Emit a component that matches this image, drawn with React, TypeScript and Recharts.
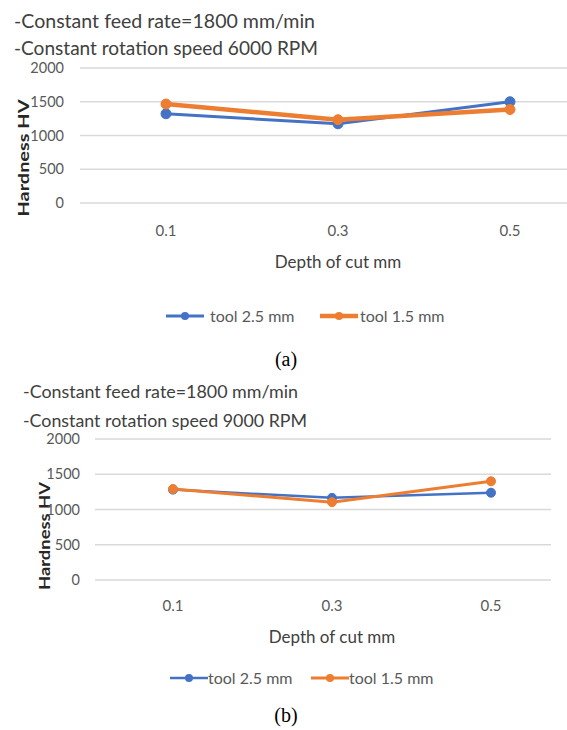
import { CartesianGrid, Line, LineChart, XAxis, YAxis } from "recharts"

const depthLabels = ["0.1", "0.3", "0.5"]
const yTicks = [0, 500, 1000, 1500, 2000]

// (a) 6000 RPM
const tool25At6000 = [1322, 1173, 1500]
const tool15At6000 = [1466, 1234, 1385]

// (b) 9000 RPM
const tool25At9000 = [1282, 1165, 1238]
const tool15At9000 = [1290, 1104, 1400]

const seriesNames = ["tool 2.5 mm", "tool 1.5 mm"]
const seriesColors = ["#4472C4", "#ED7D31"]

const titleLinesA = ["-Constant feed rate=1800 mm/min", "-Constant rotation speed 6000 RPM"]
const titleLinesB = ["-Constant feed rate=1800 mm/min", "-Constant rotation speed 9000 RPM"]

const FONT = "Lato, 'Open Sans', sans-serif"

const buildRows = (blue: number[], orange: number[]) =>
    depthLabels.map((depth, i) => ({ depth, blue: blue[i], orange: orange[i] }))

interface PanelProps {
    rows: { depth: string; blue: number; orange: number }[]
    top: number
    width: number
    height: number
    margin: { top: number; right: number; left: number; bottom: number }
    padLeft: number
    padRight: number
    yTickMargin: number
    xTickMargin: number
    titleOffset: number
    titleDx: number
    yLabel: { x: number; y: number; len: number }
    blueWidth: number
    orangeWidth: number
    dotR: number
}

function Panel(p: PanelProps) {
    return (
        <div style={{ position: "absolute", left: 0, top: p.top, width: 567, height: p.height, overflow: "hidden" }}>
            <LineChart width={p.width} height={p.height} data={p.rows} margin={p.margin}>
                <CartesianGrid vertical={false} stroke="#d9d9d9" strokeWidth={1.5} />
                <XAxis
                    dataKey="depth"
                    axisLine={false}
                    tickLine={false}
                    tickSize={0}
                    tickMargin={p.xTickMargin}
                    height={70}
                    padding={{ left: p.padLeft, right: p.padRight }}
                    tick={{ fill: "#595959", fontSize: 15, fontFamily: FONT }}
                    label={{
                        value: "Depth of cut mm",
                        position: "insideBottom",
                        offset: p.titleOffset,
                        dx: p.titleDx,
                        fill: "#404040",
                        fontSize: 17,
                        fontFamily: FONT,
                    }}
                />
                <YAxis
                    domain={[0, 2000]}
                    ticks={yTicks}
                    width={60}
                    axisLine={false}
                    tickLine={false}
                    tickSize={0}
                    tickMargin={p.yTickMargin}
                    tick={{ fill: "#595959", fontSize: 14.5, fontFamily: FONT }}
                    label={{
                        content: () => (
                            <text
                                transform={`translate(${p.yLabel.x},${p.yLabel.y}) rotate(-90)`}
                                textAnchor="middle"
                                dominantBaseline="central"
                                fill="#262626"
                                fontSize={16}
                                fontWeight="bold"
                                fontFamily={FONT}
                                textLength={p.yLabel.len}
                                lengthAdjust="spacingAndGlyphs"
                            >
                                Hardness HV
                            </text>
                        ),
                    }}
                />
                <Line
                    dataKey="blue"
                    name={seriesNames[0]}
                    stroke={seriesColors[0]}
                    strokeWidth={p.blueWidth}
                    dot={{ r: p.dotR, fill: seriesColors[0], stroke: seriesColors[0], strokeWidth: 1 }}
                    activeDot={false}
                    isAnimationActive={false}
                />
                <Line
                    dataKey="orange"
                    name={seriesNames[1]}
                    stroke={seriesColors[1]}
                    strokeWidth={p.orangeWidth}
                    dot={{ r: p.dotR, fill: seriesColors[1], stroke: seriesColors[1], strokeWidth: 1 }}
                    activeDot={false}
                    isAnimationActive={false}
                />
            </LineChart>
        </div>
    )
}

function LegendRow({ top, items }: { top: number; items: { lineX: number; textX: number; w: number }[] }) {
    return (
        <>
            {items.map((it, i) => (
                <div key={i}>
                    <svg style={{ position: "absolute", left: it.lineX, top: top - 6 }} width={40} height={12}>
                        <line x1={0} y1={6} x2={38} y2={6} stroke={seriesColors[i]} strokeWidth={it.w} />
                        <circle cx={19} cy={6} r={4} fill={seriesColors[i]} />
                    </svg>
                    <div
                        style={{
                            position: "absolute",
                            left: it.textX,
                            top: top - 10,
                            fontFamily: FONT,
                            fontSize: 16,
                            lineHeight: "20px",
                            color: "#595959",
                            whiteSpace: "nowrap",
                        }}
                    >
                        {seriesNames[i]}
                    </div>
                </div>
            ))}
        </>
    )
}

export default function App() {
    return (
        <div style={{ position: "absolute", left: 0, top: 0, width: 567, height: 730, overflow: "hidden", background: "#fff" }}>
            <Panel
                rows={buildRows(tool25At6000, tool15At6000)}
                top={0}
                width={620}
                height={290}
                margin={{ top: 68, right: 24, left: 20, bottom: 17 }}
                padLeft={86}
                padRight={86}
                yTickMargin={16}
                xTickMargin={22}
                titleOffset={5}
                titleDx={0}
                yLabel={{ x: 22, y: 158, len: 117 }}
                blueWidth={3}
                orangeWidth={4.5}
                dotR={5}
            />
            <Panel
                rows={buildRows(tool25At9000, tool15At9000)}
                top={370}
                width={567}
                height={300}
                margin={{ top: 69, right: 16, left: 35, bottom: 20 }}
                padLeft={78}
                padRight={60}
                yTickMargin={15}
                xTickMargin={20}
                titleOffset={7}
                titleDx={9}
                yLabel={{ x: 43, y: 166, len: 108 }}
                blueWidth={2.5}
                orangeWidth={3}
                dotR={4.5}
            />
            <LegendRow
                top={316}
                items={[
                    { lineX: 166, textX: 210, w: 3 },
                    { lineX: 320, textX: 360, w: 4.5 },
                ]}
            />
            <LegendRow
                top={678}
                items={[
                    { lineX: 170, textX: 208, w: 2.5 },
                    { lineX: 311, textX: 349, w: 3 },
                ]}
            />
            <svg style={{ position: "absolute", left: 0, top: 0, pointerEvents: "none" }} width={567} height={730}>
                {titleLinesA.map((t, i) => (
                    <text
                        key={"a" + i}
                        x={14}
                        y={28 + i * 27}
                        fontFamily={FONT}
                        fontSize={19.5}
                        fill="#404040"
                        textLength={i === 0 ? 301 : 304}
                        lengthAdjust="spacingAndGlyphs"
                    >
                        {t}
                    </text>
                ))}
                {titleLinesB.map((t, i) => (
                    <text
                        key={"b" + i}
                        x={23}
                        y={398 + i * 29}
                        fontFamily={FONT}
                        fontSize={18}
                        fill="#404040"
                        textLength={i === 0 ? 275 : 284}
                        lengthAdjust="spacingAndGlyphs"
                    >
                        {t}
                    </text>
                ))}
                <text x={286} y={366} textAnchor="middle" fontFamily="'Liberation Serif', serif" fontSize={20} fill="#000">
                    (a)
                </text>
                <text x={286} y={722} textAnchor="middle" fontFamily="'Liberation Serif', serif" fontSize={20} fill="#000">
                    (b)
                </text>
            </svg>
        </div>
    )
}
